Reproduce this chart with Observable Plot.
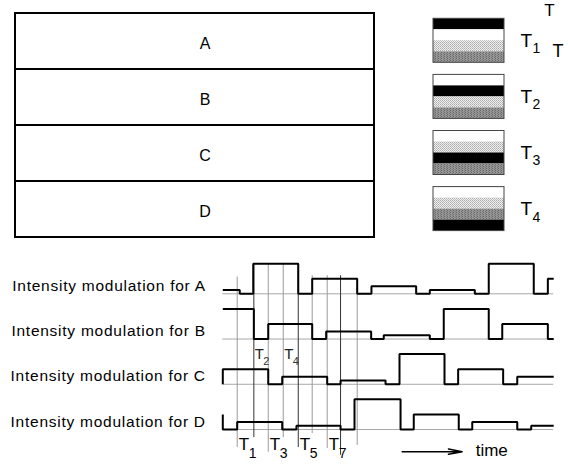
<!DOCTYPE html>
<html><head><meta charset="utf-8">
<script src="https://cdn.jsdelivr.net/npm/d3@7"></script>
<script src="https://cdn.jsdelivr.net/npm/@observablehq/plot@0.6"></script>
<style>
body{margin:0;background:#fff;}
#wrap{position:relative;width:568px;height:466px;overflow:hidden;background:#fff;font-family:"Liberation Sans",Arial,sans-serif;}
</style></head><body>
<svg width="0" height="0" style="position:absolute">
<defs>
<pattern id="lightDots" width="2" height="2" patternUnits="userSpaceOnUse"><rect width="2" height="2" fill="#eeeeee"/><rect width="1" height="1" fill="#acacac"/><rect x="1" y="1" width="1" height="1" fill="#bebebe"/></pattern>
<pattern id="darkDots" width="3" height="2" patternUnits="userSpaceOnUse"><rect width="3" height="2" fill="#969696"/><rect width="1" height="1" fill="#666666"/><rect x="2" y="1" width="1" height="1" fill="#787878"/></pattern>
</defs></svg>
<div id="wrap"></div>
<script>
// ---------- data ----------
const rows = ["A", "B", "C", "D"];

// legend: shade of each row (A..D stripes, top to bottom) during each period
const legendPeriods = ["T1", "T2", "T3", "T4"];
const t1Stripes = ["black", "white", "light", "dark"];
const t2Stripes = ["white", "black", "light", "dark"];
const t3Stripes = ["white", "light", "black", "dark"];
const t4Stripes = ["white", "light", "dark", "black"];

// intensity modulation waveforms: change times and intensity level after each change
const aTimes  = [-0.96, 0.17, 1.07, 4.07, 5.0, 8.0, 8.95, 11.93, 12.84, 15.84, 16.77, 19.77, 20.71, 21.1];
const aLevels = [1, 0, 8, 0, 4, 0, 2, 0, 1, 0, 8, 0, 4, 4];
const bTimes  = [-0.96, 1.11, 2.07, 5.0, 5.93, 8.93, 9.77, 12.84, 13.77, 16.77, 17.67, 20.71, 21.1];
const bLevels = [8, 0, 4, 0, 2, 0, 1, 0, 8, 0, 4, 0, 0];
const cTimes  = [-0.96, -0.96, 2.07, 3.0, 6.0, 6.89, 9.89, 10.82, 13.82, 14.73, 17.73, 18.67, 21.1];
const cLevels = [0, 4, 0, 2, 0, 1, 0, 8, 0, 4, 0, 2, 2];
const dTimes  = [-0.96, -0.96, 0, 3.0, 3.95, 6.89, 7.82, 10.89, 11.77, 14.77, 15.67, 18.67, 19.6, 21.1];
const dLevels = [4, 0, 2, 0, 1, 0, 8, 0, 4, 0, 2, 0, 1, 1];

// period boundary lines T1..T7 (+ extra) and their vertical extent
const gridTimes  = [0, 1.11, 2.07, 3.07, 4.07, 5.0, 6.0, 6.89, 8.0];
const gridTop    = [3.37, 3.66, 3.66, 3.66, 3.66, 3.40, 3.40, 3.40, 3.34];
const gridBottom = [-0.40, -0.18, -0.50, -0.18, -0.40, -0.09, -0.42, -0.57, -0.35];
const gridDark   = [false, true, false, false, true, false, false, true, false];
const periodLabels = ["T1", "T2", "T3", "T4", "T5", "T6", "T7"];
const shownPeriods = ["T1", "T2", "T3", "T4", "T5", "T7"];
const timeArrow = [11.0, 15.0];
const timeLabel = "time";

// ---------- rendering ----------
const wrap = document.getElementById("wrap");
const font = '"Liberation Sans", Arial, sans-serif';
const baseStyle = {fontFamily: font, background: "transparent", overflow: "visible", color: "black"};
function place(svg, left, top) {
  svg.style.position = "absolute";
  svg.style.left = left + "px";
  svg.style.top = top + "px";
  wrap.appendChild(svg);
}

// 1) the A–D box
place(Plot.plot({
  width: 380, height: 245, marginLeft: 15, marginRight: 6, marginTop: 11, marginBottom: 6.7,
  style: baseStyle,
  x: {domain: [0, 1], axis: null},
  y: {domain: rows, axis: null, padding: 0},
  marks: [
    Plot.barX(rows, {x1: 0, x2: 1, y: d => d, fill: "white", stroke: "black", strokeWidth: 2}),
    Plot.text(rows, {x: 0.5, y: d => d, text: d => d, fontSize: 16, dx: 10, dy: 2, fill: "black"})
  ]
}), 0, 0);

// 2) the legend swatches
const legendStripes = [t1Stripes, t2Stripes, t3Stripes, t4Stripes];
const shadeFill = {black: "#000000", white: "#ffffff", light: "url(#lightDots)", dark: "url(#darkDots)"};
const swatchStep = 5.1;
const stripeData = [];
legendPeriods.forEach((p, k) => legendStripes[k].forEach((s, j) => stripeData.push({p, k, j, s})));
const legendPlot = Plot.plot({
  width: 148, height: 240, marginLeft: 13, marginRight: 64, marginTop: 18.3, marginBottom: 9.4,
  style: baseStyle,
  x: {domain: [0, 1], axis: null},
  y: {domain: [0, 3 * swatchStep + 4], reverse: true, axis: null},
  color: {type: "identity"},
  marks: [
    Plot.rect(stripeData, {x1: 0, x2: 1, y1: d => d.k * swatchStep + d.j, y2: d => d.k * swatchStep + d.j + 1, fill: d => shadeFill[d.s]}),
    Plot.rect(legendPeriods, {x1: 0, x2: 1, y1: (d, i) => i * swatchStep, y2: (d, i) => i * swatchStep + 4, fill: "none", stroke: "#444", strokeWidth: 1}),
    Plot.text(legendPeriods, {x: 1, y: (d, i) => i * swatchStep + 2, text: d => d[0], dx: 16, textAnchor: "start", fontSize: 19, fill: "black"}),
    Plot.text(legendPeriods, {x: 1, y: (d, i) => i * swatchStep + 2, text: d => d.slice(1), dx: 28, dy: 8, textAnchor: "start", fontSize: 14, fill: "black"}),
    Plot.text([legendPeriods[0][0]], {x: 1, y: 2, text: d => d, dx: 45, dy: -30, fontSize: 17, fill: "black"}),
    Plot.text([legendPeriods[0][0]], {x: 1, y: 2, text: d => d, dx: 53.5, dy: 10, fontSize: 18, fill: "black"})
  ]
});
place(legendPlot, 420, 0);

// 3) the waveforms
const series = [[aTimes, aLevels], [bTimes, bLevels], [cTimes, cLevels], [dTimes, dLevels]];
const wavePts = [];
series.forEach(([ts, ls], r) => ts.forEach((t, i) => wavePts.push({row: rows[r], t, y: (3 - r) + ls[i] / 12})));
const gridIdx = gridTimes.map((d, i) => i);
const periodIdx = periodLabels.map((d, i) => i).filter(i => shownPeriods.includes(periodLabels[i]));
const bottomIdx = periodIdx.filter(i => i % 2 === 0);
const middleIdx = periodIdx.filter(i => i % 2 === 1);

const wavePlot = Plot.plot({
  width: 568, height: 216, marginLeft: 222.3, marginRight: 14.8, marginTop: 43.3, marginBottom: 37,
  style: baseStyle,
  x: {domain: [-0.96, 21.1], axis: null},
  y: {domain: [0, 3], axis: null},
  marks: [
    Plot.ruleY(rows.map((d, i) => 3 - i), {x1: -0.96, x2: 21.1, stroke: "#a8a8a8", strokeWidth: 1}),
    Plot.ruleX(gridIdx.filter(i => !gridDark[i]), {x: i => gridTimes[i], y1: i => gridTop[i], y2: i => gridBottom[i], stroke: "#9a9a9a", strokeWidth: 1}),
    Plot.ruleX(gridIdx.filter(i => gridDark[i]), {x: i => gridTimes[i], y1: i => gridTop[i], y2: i => gridBottom[i], stroke: "#333", strokeWidth: 1}),
    Plot.line(wavePts, {x: "t", y: "y", z: "row", curve: "step-after", stroke: "black", strokeWidth: 2, strokeLinejoin: "miter", strokeLinecap: "butt"}),
    Plot.text(rows, {y: (d, i) => 3 - i, frameAnchor: "left", text: d => `Intensity modulation for ${d}`, textAnchor: "end", dx: -17, lineAnchor: "bottom", dy: -3, fontSize: 15.5, fill: "black"}),
    Plot.text(bottomIdx, {x: i => gridTimes[i], frameAnchor: "bottom", text: i => periodLabels[i][0], textAnchor: "start", dx: 1.5, dy: 20, fontSize: 17, fill: "black"}),
    Plot.text(bottomIdx, {x: i => gridTimes[i], frameAnchor: "bottom", text: i => periodLabels[i].slice(1), textAnchor: "start", dx: 11.5, dy: 28, fontSize: 14, fill: "black"}),
    Plot.text(middleIdx, {x: i => gridTimes[i], y: 1.6, text: i => periodLabels[i][0], textAnchor: "start", dx: 1, dy: -3, fontSize: 15, fill: "#222"}),
    Plot.text(middleIdx, {x: i => gridTimes[i], y: 1.6, text: i => periodLabels[i].slice(1), textAnchor: "start", dx: 9.5, dy: 4, fontSize: 11, fill: "#333"}),
    Plot.arrow([timeArrow], {x1: d => d[0], x2: d => d[1], y1: -0.49, y2: -0.49, stroke: "black", strokeWidth: 1.5, headLength: 14, headAngle: 22}),
    Plot.text([timeLabel], {x: 15.9, y: -0.49, text: d => d, textAnchor: "start", dy: -1, fontSize: 17, fill: "black"})
  ]
});
d3.select(wavePlot).selectAll("text")
  .filter(function () { return this.textContent.startsWith("Intensity"); })
  .style("letter-spacing", "0.75px");
place(wavePlot, 0, 250);
</script>
</body></html>
